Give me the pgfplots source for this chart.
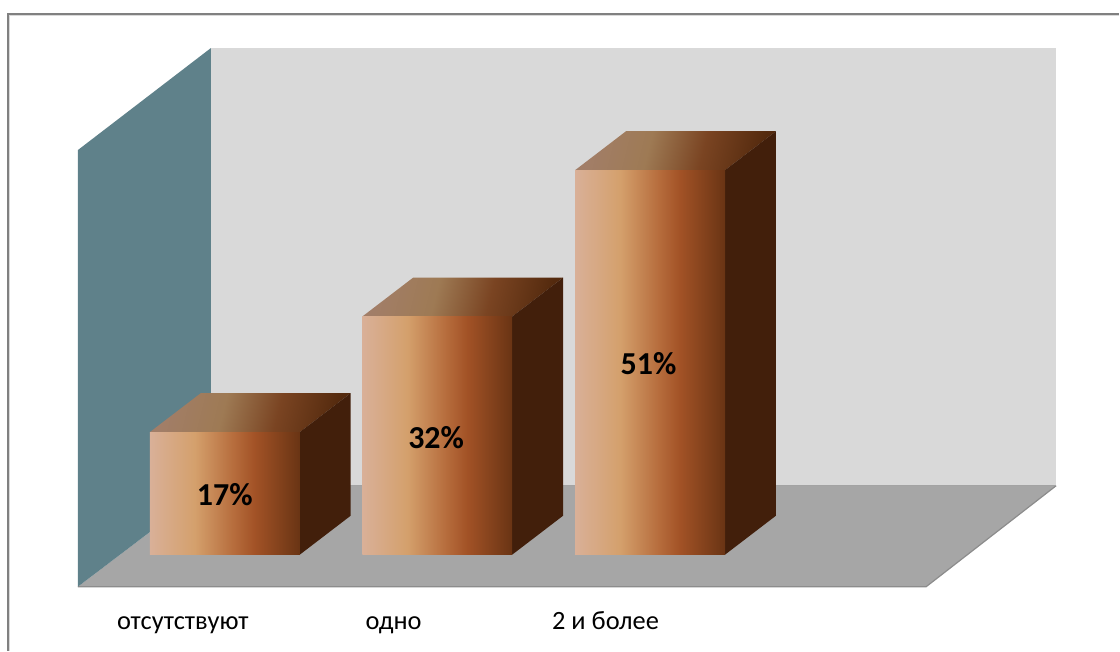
\documentclass[border=0pt]{standalone}
\usepackage{fontspec}
\setmainfont{Carlito}
\usepackage{pgfplots}
\pgfplotsset{compat=1.18}

\definecolor{frontA}{RGB}{217,176,152}
\definecolor{frontB}{RGB}{212,160,108}
\definecolor{frontC}{RGB}{182,108,60}
\definecolor{frontD}{RGB}{162,82,38}
\definecolor{frontE}{RGB}{105,52,20}
\definecolor{topA}{RGB}{162,126,104}
\definecolor{topB}{RGB}{158,122,84}
\definecolor{topC}{RGB}{122,68,34}
\definecolor{topD}{RGB}{84,42,14}

% Colour bands of the bar faces; the shading box is 100bp, a path fills 25bp to 75bp.
\pgfdeclarehorizontalshading{barfront}{100bp}{
  color(0bp)=(frontA);
  color(25bp)=(frontA);
  color(40bp)=(frontB);
  color(53bp)=(frontC);
  color(60bp)=(frontD);
  color(75bp)=(frontE);
  color(100bp)=(frontE)}
\pgfdeclarehorizontalshading{bartop}{100bp}{
  color(0bp)=(topA);
  color(25bp)=(topA);
  color(42bp)=(topB);
  color(58bp)=(topC);
  color(75bp)=(topD);
  color(100bp)=(topD)}

\definecolor{wallback}{RGB}{217,217,217}
\definecolor{wallside}{RGB}{95,129,138}
\definecolor{floorgray}{RGB}{166,166,166}
\definecolor{flooredge}{RGB}{140,140,140}
\definecolor{barside}{RGB}{66,31,11}

\pgfplotsset{
  plain frame/.style={
    scale only axis, width=840pt, height=488.25pt,
    xmin=0, xmax=1120,
    axis line style={draw=none},
    major tick length=0pt,
    ytick=\empty,
    clip=false}}

\begin{document}
\begin{tikzpicture}
% Chart area border and the walls and floor of the box, in screen units.
\begin{axis}[plain frame, y dir=reverse, ymin=0, ymax=651, xtick=\empty]
  \addplot[draw=black!15, line width=0.75pt] coordinates {(9.5,651)(9.5,15.5)(1120,15.5)};
  \addplot[draw=black!50, line width=1.4pt] coordinates {(8,651)(8,14)(1120,14)};
  \addplot[fill=wallback, draw=none] coordinates {(211,48)(1057,48)(1057,486)(211,486)} --cycle;
  \addplot[fill=floorgray, draw=none] coordinates {(78,587)(211,486)(1057,486)(927,587)} --cycle;
  \addplot[draw=flooredge, line width=0.9pt] coordinates {(78,587)(927,587)(1057,486)};
  \addplot[draw=flooredge!80, line width=0.5pt] coordinates {(211,486)(1057,486)};
  \addplot[fill=wallside, draw=none] coordinates {(78,150)(211,48)(211,486)(78,587)} --cycle;
\end{axis}

% Bars: x in screen units, y in per cent; base at 1.09, depth offset 51 across and 5.06 up.
\begin{axis}[plain frame, ymin=-11.36, ymax=73.07,
    xtick={183,394,606},
    xticklabels={отсутствуют, одно, 2 и более},
    xticklabel style={font=\fontsize{19.8}{20}\selectfont, anchor=center, yshift=18pt,
      text height=0.7em, text depth=0.25em}]
  % отсутствуют, 17
  \addplot[shade, shading=bartop, shading angle=-14, draw=none] coordinates {(150,17)(300,17)(351,22.06)(201,22.06)} --cycle;
  \addplot[fill=barside, draw=none] coordinates {(300,1.09)(351,6.15)(351,22.06)(300,17)} --cycle;
  \addplot[shade, shading=barfront, draw=none] coordinates {(150,1.09)(300,1.09)(300,17)(150,17)} --cycle;
  % одно, 32
  \addplot[shade, shading=bartop, shading angle=-14, draw=none] coordinates {(362.6,32)(512.6,32)(563.6,37.06)(413.6,37.06)} --cycle;
  \addplot[fill=barside, draw=none] coordinates {(512.6,1.09)(563.6,6.15)(563.6,37.06)(512.6,32)} --cycle;
  \addplot[shade, shading=barfront, draw=none] coordinates {(362.6,1.09)(512.6,1.09)(512.6,32)(362.6,32)} --cycle;
  % 2 и более, 51
  \addplot[shade, shading=bartop, shading angle=-14, draw=none] coordinates {(575.6,51)(725.6,51)(776.6,56.06)(626.6,56.06)} --cycle;
  \addplot[fill=barside, draw=none] coordinates {(725.6,1.09)(776.6,6.15)(776.6,56.06)(725.6,51)} --cycle;
  \addplot[shade, shading=barfront, draw=none] coordinates {(575.6,1.09)(725.6,1.09)(725.6,51)(575.6,51)} --cycle;
  % Value labels on the front faces
  \addplot[only marks, mark=none, point meta=explicit symbolic,
    nodes near coords,
    every node near coord/.style={anchor=center, text=black,
      font=\fontsize{24}{24}\selectfont\bfseries}]
    coordinates {(225,8.87)[17\%] (436.5,16.26)[32\%] (649,25.86)[51\%]};
\end{axis}
\end{tikzpicture}
\end{document}
